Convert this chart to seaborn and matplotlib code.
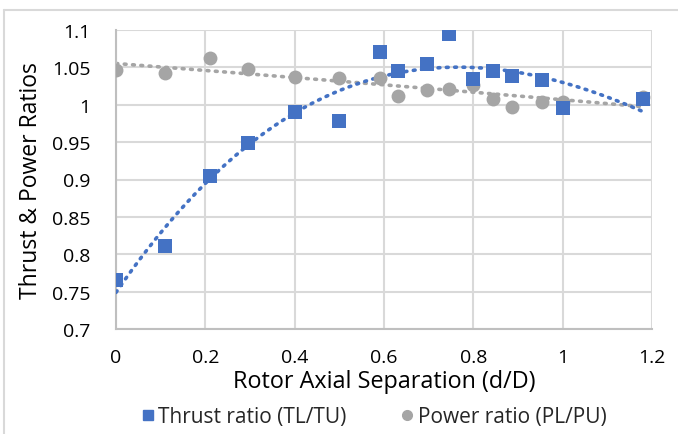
import numpy as np
import pandas as pd
import matplotlib
matplotlib.use("Agg")
import matplotlib.pyplot as plt
import seaborn as sns
from matplotlib.ticker import MultipleLocator, FixedLocator
from matplotlib.lines import Line2D

# ---- data ----
x_sep = [0.0, 0.11, 0.21, 0.295, 0.40, 0.50, 0.59, 0.632, 0.696, 0.745,
         0.80, 0.843, 0.886, 0.953, 1.0, 1.18]
thrust_ratio = [0.765, 0.811, 0.905, 0.949, 0.990, 0.978, 1.070, 1.045, 1.055, 1.094,
                1.034, 1.045, 1.039, 1.033, 0.996, 1.008]
power_ratio = [1.046, 1.042, 1.063, 1.048, 1.037, 1.036, 1.036, 1.012, 1.020, 1.021,
               1.027, 1.008, 0.997, 1.004, 1.004, 1.010]
x_ticks = [0, 0.2, 0.4, 0.6, 0.8, 1.0, 1.2]
x_tick_labels = ["0", "0.2", "0.4", "0.6", "0.8", "1", "1.2"]
y_ticks = [0.7, 0.75, 0.8, 0.85, 0.9, 0.95, 1.0, 1.05, 1.1]
y_tick_labels = ["0.7", "0.75", "0.8", "0.85", "0.9", "0.95", "1", "1.05", "1.1"]
thrust_label = "Thrust ratio (TL/TU)"
power_label = "Power ratio (PL/PU)"

BLUE = "#4472C4"
GREY = "#A5A5A5"
GRID = "#D9D9D9"
AXC = "#BFBFBF"
TXT = "#000000"

sns.set_theme(style="white")
plt.rcParams["font.family"] = ["Open Sans", "DejaVu Sans"]

df = pd.DataFrame({"x": x_sep, "thrust": thrust_ratio, "power": power_ratio})

fig = plt.figure(figsize=(6.78, 4.35), dpi=100)
W, H = 678, 435
ax = fig.add_axes([116 / W, 1 - 330 / H, (652 - 116) / W, (330 - 31) / H])

# chart border (top and left edges visible)
fig.add_artist(Line2D([4 / W, 4 / W], [0, 1 - 11 / H], transform=fig.transFigure,
                      color=GRID, linewidth=1.5))
fig.add_artist(Line2D([4 / W, 1], [1 - 11 / H, 1 - 11 / H], transform=fig.transFigure,
                      color=GRID, linewidth=1.5))

# trendlines (polynomial fits of the data)
xs = np.linspace(0, 1.18, 200)
pt = np.polyfit(df["x"], df["thrust"], 3)
pp = np.polyfit(df["x"], df["power"], 2)
trend = pd.DataFrame({"x": xs, "t": np.polyval(pt, xs), "p": np.polyval(pp, xs)})
sns.lineplot(data=trend, x="x", y="p", ax=ax, color=GREY, linewidth=2.6,
             linestyle=(0, (0.5, 1.8)), dash_capstyle="round", zorder=2)
sns.lineplot(data=trend, x="x", y="t", ax=ax, color=BLUE, linewidth=2.6,
             linestyle=(0, (0.5, 1.8)), dash_capstyle="round", zorder=3)

sns.scatterplot(data=df, x="x", y="power", ax=ax, marker="o", s=100,
                color=GREY, edgecolor=GREY, linewidth=0, zorder=4)
sns.scatterplot(data=df, x="x", y="thrust", ax=ax, marker="s", s=90,
                color=BLUE, edgecolor=BLUE, linewidth=0, zorder=5)

ax.set_xlim(0, 1.2)
ax.set_ylim(0.7, 1.1)
ax.xaxis.set_major_locator(FixedLocator(x_ticks))
ax.set_xticklabels(x_tick_labels)
ax.xaxis.set_minor_locator(MultipleLocator(0.1))
ax.yaxis.set_major_locator(FixedLocator(y_ticks))
ax.set_yticklabels(y_tick_labels)

ax.grid(True, which="major", color=GRID, linewidth=1.5, zorder=0)
ax.set_axisbelow(True)
for s in ["top", "right"]:
    ax.spines[s].set_visible(False)
for s in ["left", "bottom"]:
    ax.spines[s].set_color(AXC)
    ax.spines[s].set_linewidth(1.5)

ax.tick_params(axis="both", which="major", direction="inout", length=9,
               width=1.5, color=AXC, labelsize=14, labelcolor=TXT)
ax.tick_params(axis="x", which="major", pad=9)
ax.tick_params(axis="x", which="minor", direction="out", length=4,
               width=1.5, color=AXC)
ax.tick_params(axis="y", which="major", pad=14)

ax.set_xlabel("Rotor Axial Separation (d/D)", fontsize=16.8, color=TXT, labelpad=2)
ax.set_ylabel("Thrust & Power Ratios", fontsize=16.5, color=TXT, labelpad=6)

handles = [Line2D([], [], marker="s", linestyle="none", color=BLUE, markersize=7),
           Line2D([], [], marker="o", linestyle="none", color=GREY, markersize=7)]
fig.legend(handles, [thrust_label, power_label], loc="center",
           bbox_to_anchor=(372 / W, 1 - 418 / H), ncol=2, frameon=False,
           fontsize=15, handletextpad=0.0, columnspacing=2.4, handlelength=1.0)

fig.savefig("out.png", dpi=100)
